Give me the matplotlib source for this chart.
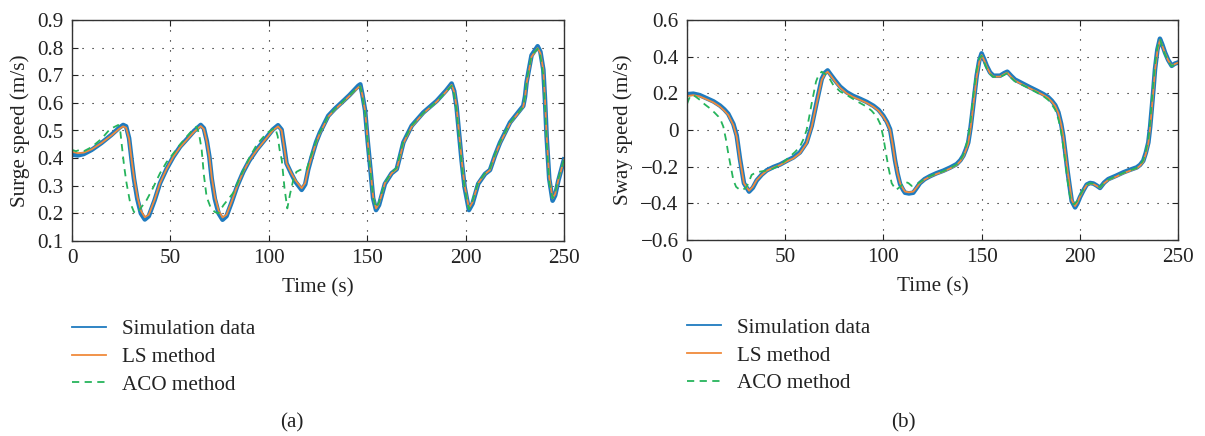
import numpy as np
import matplotlib
matplotlib.use('Agg')
import matplotlib.pyplot as plt
from matplotlib.lines import Line2D

# ---------- panel (a): surge speed ----------
t_ls_a = [0, 3, 6, 10, 15, 20, 24, 26, 27.5, 29, 30.3, 31.5, 33.2, 35, 37, 39, 42, 44.7, 48, 51.5,
          55, 58.3, 62, 65.4, 67, 68.5, 69.8, 71, 72.6, 74.5, 76.5, 78.5, 81, 84, 87, 90, 94, 98,
          102, 104.7, 106.5, 108, 109, 111.5, 113.5, 116.7, 118.5, 120, 121.8, 124, 126, 130.2,
          133.5, 137, 141, 145.5, 146.5, 147.5, 148.9, 150.3, 151.7, 153, 154.5, 156, 159, 162.4,
          165, 166.5, 168.4, 172.6, 178.5, 185.3, 190, 192.9, 194.2, 195.4, 196.7, 198, 199.5,
          201.7, 203.5, 206.4, 209.9, 212.4, 215, 217.5, 222.6, 229.3, 230.2, 231, 233.5, 236.6,
          238, 239.5, 240.3, 241.2, 242.5, 244.2, 245.5, 247.1, 250]
ls_a = [0.423, 0.418, 0.420, 0.432, 0.455, 0.482, 0.506, 0.515, 0.510, 0.470, 0.393, 0.330, 0.260,
        0.210, 0.186, 0.195, 0.250, 0.309, 0.360, 0.405, 0.440, 0.466, 0.495, 0.516, 0.505, 0.460,
        0.405, 0.330, 0.260, 0.210, 0.185, 0.195, 0.240, 0.300, 0.350, 0.390, 0.430, 0.465, 0.500,
        0.515, 0.500, 0.430, 0.381, 0.345, 0.320, 0.291, 0.310, 0.360, 0.405, 0.455, 0.490, 0.550,
        0.575, 0.598, 0.625, 0.656, 0.660, 0.630, 0.574, 0.460, 0.357, 0.260, 0.218, 0.235, 0.309,
        0.345, 0.360, 0.400, 0.454, 0.514, 0.562, 0.604, 0.640, 0.665, 0.640, 0.586, 0.490, 0.393,
        0.300, 0.218, 0.240, 0.309, 0.343, 0.357, 0.410, 0.454, 0.526, 0.586, 0.620, 0.671, 0.767,
        0.798, 0.780, 0.719, 0.620, 0.478, 0.330, 0.254, 0.270, 0.320, 0.393]
sim_a = [0.413, 0.410, 0.415, 0.430, 0.455, 0.484, 0.510, 0.520, 0.515, 0.472, 0.393, 0.325, 0.252,
         0.200, 0.178, 0.190, 0.248, 0.309, 0.360, 0.405, 0.442, 0.468, 0.498, 0.520, 0.508, 0.462,
         0.405, 0.325, 0.252, 0.200, 0.177, 0.190, 0.238, 0.300, 0.350, 0.390, 0.432, 0.467, 0.503,
         0.519, 0.503, 0.432, 0.381, 0.343, 0.315, 0.285, 0.305, 0.358, 0.405, 0.457, 0.493, 0.553,
         0.578, 0.601, 0.628, 0.662, 0.667, 0.632, 0.574, 0.458, 0.355, 0.255, 0.212, 0.230, 0.307,
         0.345, 0.360, 0.402, 0.457, 0.517, 0.565, 0.607, 0.644, 0.670, 0.643, 0.586, 0.488, 0.390,
         0.295, 0.212, 0.235, 0.307, 0.343, 0.357, 0.411, 0.456, 0.529, 0.589, 0.623, 0.675, 0.772,
         0.805, 0.785, 0.720, 0.618, 0.475, 0.325, 0.246, 0.265, 0.318, 0.395]
t_aco_a = [0, 2, 4, 6, 10, 15, 19.3, 23.5, 24.5, 25.2, 26.5, 27.7, 29.5, 31.5, 33, 35, 37.9, 41,
           44.7, 48, 51.5, 55, 58.3, 61, 63.3, 64.5, 65.9, 67, 68.4, 70.5, 72.6, 74.3, 77, 81.9,
           86, 90.4, 94, 98.9, 103.2, 104.5, 105.5, 106.6, 108, 109.4, 110.8, 112.4, 114, 115.8,
           117.5, 119.2, 121, 122.6, 125, 126.5, 130.2, 133.5, 137, 141, 145.5, 146.5, 147.5,
           148.9, 150.3, 151.7, 153, 154.5, 156, 159, 162.4, 165, 166.5, 168.4, 172.6, 178.5,
           185.3, 190, 192.9, 194.2, 195.4, 196.7, 198, 199.5, 201.7, 203.5, 206.4, 209.9, 212.4,
           215, 217.5, 222.6, 229.3, 230.2, 231, 233.5, 236.6, 238, 239.5, 240.3, 241.2, 242.5,
           244.2, 245.5, 247.1, 250]
aco_a = [0.430, 0.425, 0.430, 0.425, 0.440, 0.470, 0.505, 0.520, 0.500, 0.454, 0.370, 0.310, 0.240,
         0.205, 0.200, 0.220, 0.248, 0.290, 0.345, 0.385, 0.417, 0.450, 0.478, 0.500, 0.514, 0.490,
         0.430, 0.340, 0.260, 0.220, 0.205, 0.200, 0.230, 0.274, 0.340, 0.405, 0.450, 0.490, 0.510,
         0.480, 0.430, 0.393, 0.290, 0.218, 0.270, 0.320, 0.350, 0.357, 0.360, 0.357, 0.400, 0.430,
         0.480, 0.500, 0.552, 0.577, 0.600, 0.627, 0.658, 0.660, 0.625, 0.565, 0.450, 0.350, 0.258,
         0.220, 0.240, 0.312, 0.348, 0.365, 0.410, 0.460, 0.518, 0.563, 0.604, 0.640, 0.662, 0.630,
         0.575, 0.475, 0.380, 0.290, 0.215, 0.245, 0.312, 0.345, 0.362, 0.415, 0.458, 0.528, 0.586,
         0.625, 0.680, 0.772, 0.796, 0.770, 0.700, 0.595, 0.455, 0.310, 0.255, 0.275, 0.325, 0.395]

# ---------- panel (b): sway speed ----------
t_ls_b = [0, 3.2, 6.5, 10, 13.5, 16.8, 19, 21, 23.6, 25.3, 27, 29, 31.6, 33.5, 35.5, 38, 40.6, 44,
          47.4, 51, 54.1, 57.5, 60.9, 63.5, 66, 68.6, 70.2, 71.6, 73.3, 75.4, 78, 81.3, 84.6, 88.1,
          91.5, 94.9, 97.5, 99.9, 101.8, 103.4, 104.7, 105.9, 107.2, 108.5, 110, 111, 113, 115.2,
          116.8, 118.6, 121, 123.7, 127, 130.5, 134, 137.3, 139.2, 140.7, 142, 143.2, 144.4, 145.5,
          146.5, 147.5, 148.8, 150, 151.3, 152.6, 154.3, 156, 159.4, 161.5, 163.1, 165, 167,
          170.8, 174.6, 178, 181.4, 183.8, 185.7, 187.5, 189.1, 190.5, 191.6, 192.7, 193.7, 194.8,
          195.9, 197.6, 198.8, 200.1, 201.8, 203.5, 205.2, 206.9, 208.6, 210.3, 212.4, 214.5,
          218.4, 222.2, 225.6, 229, 230.7, 232.3, 233.6, 234.9, 235.8, 236.6, 237.5, 238.3, 239.5,
          240.8, 242, 243.4, 245, 246.8, 248.4, 250]
ls_b = [0.185, 0.190, 0.183, 0.167, 0.150, 0.127, 0.105, 0.082, 0.027, -0.036, -0.164, -0.290,
        -0.331, -0.310, -0.273, -0.245, -0.222, -0.205, -0.191, -0.170, -0.155, -0.127, -0.073,
        0.018, 0.146, 0.273, 0.305, 0.318, 0.295, 0.264, 0.230, 0.200, 0.180, 0.164, 0.148, 0.127,
        0.105, 0.073, 0.040, 0.000, -0.080, -0.164, -0.235, -0.290, -0.320, -0.336, -0.340,
        -0.336, -0.315, -0.290, -0.270, -0.255, -0.240, -0.227, -0.210, -0.191, -0.170, -0.145,
        -0.110, -0.073, 0.010, 0.109, 0.200, 0.291, 0.370, 0.409, 0.380, 0.345, 0.310, 0.291,
        0.291, 0.305, 0.313, 0.290, 0.269, 0.248, 0.227, 0.210, 0.191, 0.175, 0.155, 0.130, 0.091,
        0.030, -0.036, -0.130, -0.218, -0.300, -0.382, -0.415, -0.395, -0.364, -0.330, -0.300,
        -0.292, -0.295, -0.305, -0.315, -0.290, -0.273, -0.255, -0.236, -0.222, -0.209, -0.195,
        -0.173, -0.130, -0.073, 0.010, 0.109, 0.220, 0.327, 0.430, 0.491, 0.460, 0.418, 0.380,
        0.349, 0.360, 0.367]
sim_b = [0.195, 0.198, 0.190, 0.173, 0.156, 0.133, 0.112, 0.088, 0.033, -0.030, -0.160, -0.290,
         -0.336, -0.315, -0.275, -0.244, -0.220, -0.202, -0.188, -0.167, -0.150, -0.122, -0.068,
         0.022, 0.150, 0.278, 0.312, 0.325, 0.300, 0.270, 0.236, 0.206, 0.186, 0.170, 0.153, 0.132,
         0.110, 0.078, 0.044, 0.004, -0.078, -0.164, -0.238, -0.295, -0.326, -0.342, -0.346,
         -0.342, -0.318, -0.290, -0.268, -0.252, -0.236, -0.222, -0.205, -0.186, -0.165, -0.140,
         -0.106, -0.068, 0.014, 0.112, 0.205, 0.296, 0.378, 0.418, 0.386, 0.350, 0.314, 0.296,
         0.296, 0.310, 0.318, 0.296, 0.275, 0.254, 0.233, 0.215, 0.196, 0.180, 0.160, 0.135, 0.096,
         0.034, -0.034, -0.130, -0.220, -0.305, -0.388, -0.422, -0.400, -0.366, -0.330, -0.298,
         -0.289, -0.292, -0.303, -0.316, -0.287, -0.268, -0.250, -0.231, -0.217, -0.204, -0.190,
         -0.168, -0.125, -0.068, 0.015, 0.112, 0.224, 0.332, 0.438, 0.498, 0.466, 0.422, 0.382,
         0.350, 0.362, 0.368]
t_aco_b = [0, 1, 2, 4, 6.6, 9, 11.7, 14, 16, 17.3, 18.5, 19.8, 21, 22.3, 23.6, 25, 27, 28.7, 30.4,
           31.6, 32.9, 35, 37.2, 42.3, 47.4, 52.4, 55, 57.5, 59.3, 60.9, 62.2, 63.5, 65.7, 67,
           68.6, 70.3, 72, 74.5, 78, 81.3, 86, 91.5, 94, 96.6, 98.5, 99.9, 101.2, 102.5, 104.2,
           106.4, 108.5, 111, 112.8, 114.4, 116, 118.6, 121, 123.7, 127, 130.5, 134, 137.3, 139.2,
           140.7, 142, 143.2, 144.4, 145.5, 146.5, 147.5, 148.8, 150, 151.3, 152.6, 154.3, 156,
           159.4, 161.5, 163.1, 165, 167, 170.8, 174.6, 178, 181.4, 183.8, 185.7, 187.5, 189.1,
           190.5, 191.6, 192.7, 193.7, 194.8, 195.9, 197.2, 198.8, 200.1, 201.8, 203.5, 205.2,
           206.9, 208.6, 210.3, 212.4, 214.5, 218.4, 222.2, 225.6, 229, 230.7, 232.3, 233.6,
           234.9, 235.8, 236.6, 237.5, 238.3, 239.5, 240.8, 242, 243.4, 245, 246.8, 248.4, 250]
aco_b = [0.142, 0.170, 0.190, 0.185, 0.164, 0.140, 0.118, 0.095, 0.073, 0.050, 0.018, -0.050,
         -0.127, -0.200, -0.273, -0.310, -0.327, -0.325, -0.309, -0.280, -0.245, -0.232, -0.227,
         -0.218, -0.191, -0.145, -0.120, -0.091, -0.050, 0.000, 0.070, 0.146, 0.264, 0.300, 0.318,
         0.305, 0.291, 0.245, 0.210, 0.191, 0.160, 0.127, 0.105, 0.073, 0.030, -0.036, -0.120,
         -0.200, -0.290, -0.327, -0.310, -0.282, -0.290, -0.305, -0.300, -0.285, -0.268, -0.252,
         -0.238, -0.225, -0.208, -0.188, -0.165, -0.135, -0.090, -0.040, 0.050, 0.160, 0.250,
         0.330, 0.390, 0.405, 0.370, 0.335, 0.305, 0.290, 0.290, 0.300, 0.310, 0.285, 0.265,
         0.245, 0.225, 0.205, 0.185, 0.165, 0.140, 0.110, 0.060, -0.010, -0.090, -0.180, -0.270,
         -0.350, -0.400, -0.405, -0.385, -0.355, -0.325, -0.298, -0.290, -0.293, -0.303, -0.313,
         -0.288, -0.271, -0.253, -0.234, -0.220, -0.207, -0.190, -0.165, -0.115, -0.050, 0.040,
         0.150, 0.260, 0.360, 0.450, 0.495, 0.455, 0.412, 0.376, 0.347, 0.358, 0.366]

labels = ['Simulation data', 'LS method', 'ACO method']
blue, orange, green = '#1f7bbf', '#f08a3c', '#26b45c'
text_col = '#222222'
fs = 15.2

plt.rcParams['font.family'] = ['Liberation Serif', 'DejaVu Serif']
plt.rcParams['font.size'] = fs

fig = plt.figure(figsize=(12.05, 4.36), dpi=100)
W, H = 1205, 436


def make_ax(x0, x1, y0, y1):
    return fig.add_axes([x0 / W, 1 - y1 / H, (x1 - x0) / W, (y1 - y0) / H])


ax1 = make_ax(72, 564, 20, 241)
ax2 = make_ax(687, 1178, 20, 240)

panels = [
    (ax1, t_ls_a, sim_a, ls_a, t_aco_a, aco_a, (0.1, 0.9), np.arange(0.1, 0.91, 0.1),
     'Surge speed (m/s)', '(a)', 292),
    (ax2, t_ls_b, sim_b, ls_b, t_aco_b, aco_b, (-0.6, 0.6), np.arange(-0.6, 0.61, 0.2),
     'Sway speed (m/s)', '(b)', 903),
]

# thin handles for the legend (data line itself is drawn thick)
handles = [Line2D([], [], color=blue, lw=1.3),
           Line2D([], [], color=orange, lw=1.3),
           Line2D([], [], color=green, lw=1.3, linestyle=(0, (4, 3)))]

for ax, t, sim, ls, ta, aco, ylim, yt, ylab, tag, tagx in panels:
    ax.plot(t, sim, color=blue, lw=3.3, solid_joinstyle='round')
    ax.plot(t, ls, color=orange, lw=1.3)
    ax.plot(ta, aco, color=green, lw=1.3, linestyle=(0, (4, 3)))
    ax.set_xlim(0, 250)
    ax.set_ylim(*ylim)
    ax.set_xticks(np.arange(0, 251, 50))
    ax.set_yticks(yt)
    if ylim[0] < 0:
        ax.set_yticklabels(['\u22120.6', '\u22120.4', '\u22120.2', '0', '0.2', '0.4', '0.6'])
    else:
        ax.set_yticklabels([f'{v:.1f}' for v in yt])
    ax.grid(True, color='black', linestyle=(0, (1, 8)), linewidth=0.8)
    ax.tick_params(direction='in', length=4, width=0.8, top=True, right=True, pad=6,
                   colors=text_col, labelsize=fs)
    for s in ax.spines.values():
        s.set_color('#333333')
        s.set_linewidth(1.0)
    ax.set_xlabel('Time (s)', labelpad=7, color=text_col)
    ax.set_ylabel(ylab, labelpad=5, color=text_col)
    ax.legend(handles, labels, loc='upper left', bbox_to_anchor=(0, -0.355), frameon=False,
              borderpad=0, borderaxespad=0, handlelength=1.6, handletextpad=0.75,
              labelspacing=0.38, fontsize=fs, labelcolor=text_col)
    fig.text(tagx / W, 1 - 423 / H, tag, ha='center', va='center', fontsize=fs, color=text_col)

fig.savefig('out.png', dpi=100)
